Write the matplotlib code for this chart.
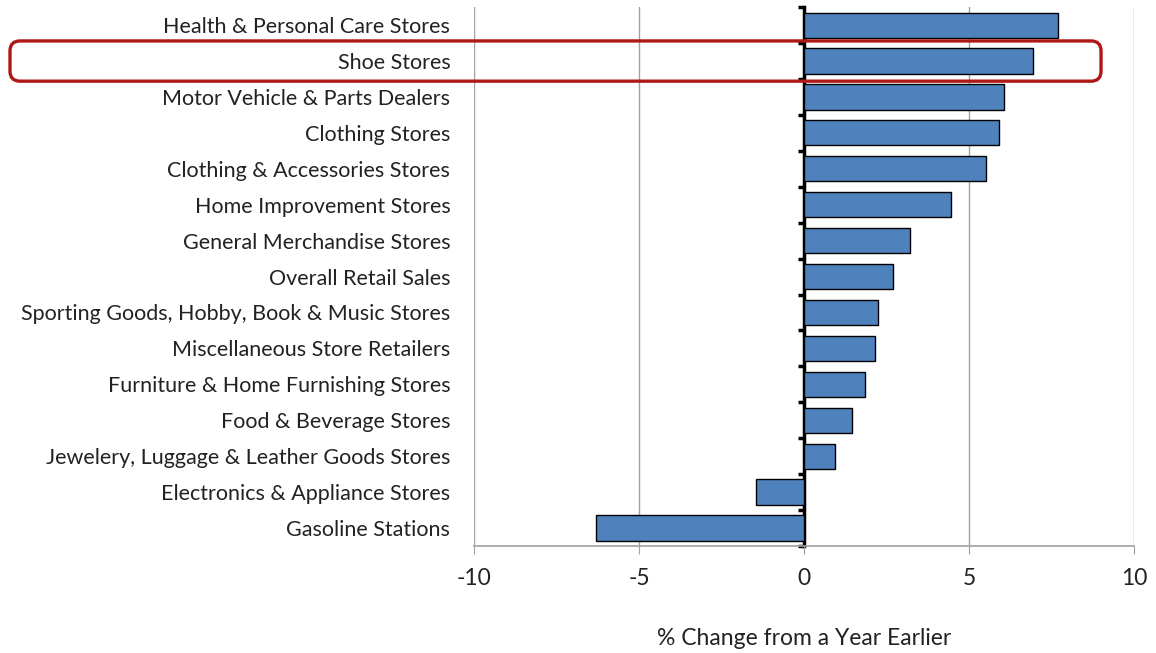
import matplotlib.pyplot as plt
import matplotlib.transforms as mtransforms
from matplotlib.patches import FancyBboxPatch
import numpy as np

plt.rcParams['font.family'] = ['Lato', 'DejaVu Sans']

categories = ['Health & Personal Care Stores', 'Shoe Stores', 'Motor Vehicle & Parts Dealers',
              'Clothing Stores', 'Clothing & Accessories Stores', 'Home Improvement Stores',
              'General Merchandise Stores', 'Overall Retail Sales',
              'Sporting Goods, Hobby, Book & Music Stores', 'Miscellaneous Store Retailers',
              'Furniture & Home Furnishing Stores', 'Food & Beverage Stores',
              'Jewelery, Luggage & Leather Goods Stores', 'Electronics & Appliance Stores',
              'Gasoline Stations']
values = [7.7, 6.95, 6.05, 5.9, 5.5, 4.45, 3.2, 2.7, 2.25, 2.15, 1.85, 1.45, 0.95, -1.45, -6.3]
xticks = [-10, -5, 0, 5, 10]
highlight = 'Shoe Stores'

fig = plt.figure(figsize=(11.56, 6.53), dpi=100)
ax = fig.add_axes([0.41, 0.164, 0.571, 0.825])

y = np.arange(len(categories))
ax.barh(y, values, height=0.7, color='#4F81BD', edgecolor='black', linewidth=1, zorder=3)
ax.set_ylim(len(categories) - 0.5, -0.5)
ax.set_xlim(-10, 10)

ax.set_yticks(y)
ax.set_yticklabels(categories, fontsize=15.5, color='#222222')
ax.tick_params(axis='y', length=0, pad=17)

ax.set_xticks(xticks)
ax.set_xticklabels([str(t) for t in xticks], fontsize=16.5, color='#222222')
ax.tick_params(axis='x', length=6, color='#a0a0a0', pad=10)
for xv in xticks:
    if xv != 0:
        ax.axvline(xv, color='#a0a0a0', lw=1, zorder=1)

for s in ['top', 'left', 'right']:
    ax.spines[s].set_visible(False)
ax.spines['bottom'].set_color('#a0a0a0')
ax.spines['bottom'].set_linewidth(1.2)

ax.set_xlabel('% Change from a Year Earlier', fontsize=16.5, color='#222222', labelpad=28)

# zero axis with category tick marks
sec = ax.secondary_yaxis(0, transform=ax.transData)
sec.set_yticks(np.arange(len(categories) + 1) - 0.5)
sec.set_yticklabels([])
sec.spines['left'].set_linewidth(2.5)
sec.spines['left'].set_color('black')
sec.tick_params(axis='y', length=4, width=2.5, color='black', direction='out')
for s in ['top', 'right', 'bottom']:
    sec.spines[s].set_visible(False)

# red highlight box around the Shoe Stores row
fig.canvas.draw()
idx = categories.index(highlight)
x_right, y_c = ax.transData.transform((9.0, idx))
_, y_top = ax.transData.transform((0, idx - 0.56))
_, y_bot = ax.transData.transform((0, idx + 0.56))
x_left = 10
box = FancyBboxPatch((x_left, min(y_top, y_bot)), x_right - x_left, abs(y_top - y_bot),
                     boxstyle='round,pad=0,rounding_size=10', fill=False,
                     edgecolor='#b01818', linewidth=2.4,
                     transform=mtransforms.IdentityTransform(), zorder=10)
fig.add_artist(box)

fig.savefig('out.png', dpi=100)
